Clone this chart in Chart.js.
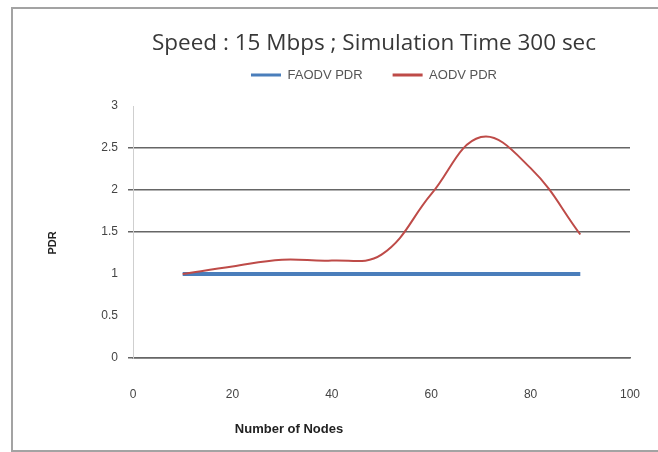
<!DOCTYPE html>
<html lang="en">
<head>
  <meta charset="UTF-8" />
  <title>Speed : 15 Mbps ; Simulation Time 300 sec</title>
  <script src="https://cdn.jsdelivr.net/npm/chart.js"></script>
  <style>
    body {
      margin: 0;
      background: #fff;
      overflow: hidden;
    }
    #frame {
      position: absolute;
      left: 11px;
      top: 7px;
      width: 660px;
      height: 441px;
      border: 2px solid #a3a3a3;
      border-right: none;
    }
    #wrap {
      position: absolute;
      left: 0;
      top: 0;
      width: 658px;
      height: 452px;
    }
  </style>
</head>
<body>
  <div id="frame"></div>
  <div id="wrap"><canvas id="pdrChart"></canvas></div>

  <script>
    // Data
    const nodes = [10, 20, 30, 40, 50, 60, 70, 80, 90];
    const faodvPdr = [1, 1, 1, 1, 1, 1, 1, 1, 1];
    const aodvPdr = [1.0, 1.09, 1.17, 1.16, 1.23, 1.95, 2.63, 2.26, 1.47];
    const seriesNames = ['FAODV PDR', 'AODV PDR'];
    const gridValues = [0, 1.5, 2, 2.5];

    const toPoints = vals => nodes.map((n, i) => ({ x: n, y: vals[i] }));
    const tickFont = { family: '"Liberation Sans Narrow", sans-serif', size: 12 };

    // Axis titles sit where the original put them, not centred on the axis
    const axisTitles = {
      id: 'axisTitles',
      afterDraw(chart) {
        const ctx = chart.ctx;
        ctx.save();
        ctx.fillStyle = '#222';
        ctx.textAlign = 'center';
        ctx.textBaseline = 'middle';
        ctx.font = 'bold 13px "Liberation Sans Narrow", "Liberation Sans", sans-serif';
        ctx.fillText('Number of Nodes', 289, 429);
        ctx.translate(53, 243);
        ctx.rotate(-Math.PI / 2);
        ctx.font = 'bold 11px "Liberation Sans", sans-serif';
        ctx.fillText('PDR', 0, 0);
        ctx.restore();
      }
    };

    const ctx = document.getElementById('pdrChart').getContext('2d');
    new Chart(ctx, {
      type: 'line',
      data: {
        datasets: [{
          label: seriesNames[0],
          data: toPoints(faodvPdr),
          borderColor: '#4a7ebb',
          backgroundColor: '#4a7ebb',
          borderWidth: 4,
          pointRadius: 0,
          order: 1
        }, {
          label: seriesNames[1],
          data: toPoints(aodvPdr),
          borderColor: '#be4b48',
          backgroundColor: '#be4b48',
          borderWidth: 2,
          pointRadius: 0,
          tension: 0.4,
          order: 0
        }]
      },
      options: {
        responsive: true,
        maintainAspectRatio: false,
        animation: false,
        layout: {
          padding: { left: 90, right: 0, top: 0, bottom: 0 }
        },
        plugins: {
          title: {
            display: true,
            text: 'Speed : 15 Mbps ; Simulation Time 300 sec',
            color: '#383838',
            font: { family: '"Open Sans", sans-serif', size: 22.5, weight: 'normal' },
            padding: { top: 30.5, bottom: -19 }
          },
          legend: {
            labels: {
              boxWidth: 30,
              boxHeight: 3,
              padding: 30,
              color: '#555',
              font: { family: '"Liberation Sans Narrow", sans-serif', size: 13 },
              sort: (a, b) => a.datasetIndex - b.datasetIndex,
              generateLabels(chart) {
                const items = Chart.defaults.plugins.legend.labels.generateLabels(chart);
                items.forEach(it => { it.lineWidth = 0; });
                return items;
              }
            }
          },
          tooltip: { enabled: false }
        },
        scales: {
          x: {
            type: 'linear',
            min: 0,
            max: 100,
            ticks: { stepSize: 20, padding: 3, color: '#444', font: tickFont },
            grid: { color: 'transparent', tickLength: 26 },
            border: { color: '#666', width: 1.5 },
            afterFit(scale) { scale.height = 94; }
          },
          xTop: {
            position: 'top',
            display: true,
            ticks: { display: false },
            grid: { display: false, drawTicks: false },
            border: { display: false },
            afterFit(scale) { scale.height = 14.5; }
          },
          y: {
            min: 0,
            max: 3,
            ticks: {
              stepSize: 0.5,
              padding: 10,
              color: '#444',
              font: tickFont,
              callback: v => String(v)
            },
            grid: {
              tickLength: 5,
              lineWidth: 1.5,
              color: c => gridValues.includes(c.tick ? c.tick.value : -1) ? '#666' : 'transparent',
              tickColor: c => gridValues.includes(c.tick ? c.tick.value : -1) ? '#666' : 'transparent'
            },
            border: { color: '#cfcfcf', width: 1 },
            afterFit(scale) { scale.width = 43; }
          },
          yRight: {
            position: 'right',
            display: true,
            ticks: { display: false },
            grid: { display: false, drawTicks: false },
            border: { display: false },
            afterFit(scale) { scale.width = 28; }
          }
        }
      },
      plugins: [axisTitles]
    });
  </script>
</body>
</html>
